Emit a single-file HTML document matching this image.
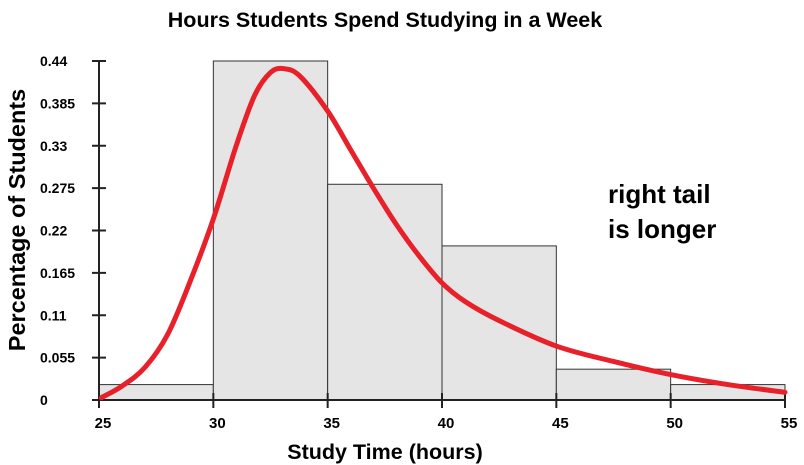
<!DOCTYPE html>
<html><head><meta charset="utf-8"><style>
body{margin:0;background:#fff}
svg{display:block;font-family:"Liberation Sans",Arial,sans-serif}
</style></head><body>
<svg width="804" height="465" viewBox="0 0 804 465" id="chart">
<text x="385" y="27" text-anchor="middle" font-size="21.5" font-weight="bold">Hours Students Spend Studying in a Week</text>
<text transform="translate(25,220) rotate(-90)" text-anchor="middle" font-size="23.5" font-weight="bold">Percentage of Students</text>
<text x="385" y="459" text-anchor="middle" font-size="21.5" font-weight="bold">Study Time (hours)</text>
<g id="bars"></g>
<g id="axes"></g>
<path id="curve" fill="none" stroke="#e8202a" stroke-width="5" stroke-linecap="round"></path>
<text x="608" y="203" font-size="26" font-weight="bold">right tail</text>
<text x="608" y="238" font-size="26" font-weight="bold">is longer</text>
</svg>
<script>
const binStarts=[25,30,35,40,45,50];
const binValues=[0.02,0.44,0.28,0.2,0.04,0.02];
const yTicks=[0,0.055,0.11,0.165,0.22,0.275,0.33,0.385,0.44];
const yTickLabels=["0","0.055","0.11","0.165","0.22","0.275","0.33","0.385","0.44"];
const xTicks=[25,30,35,40,45,50,55];
const curveX=[25.1,26,27,28,29,30,31,31.8,32.5,33.1,33.8,35,36,37,38,39,40,41,42.5,45,47.5,50,52.5,55];
const curveY=[0.003,0.018,0.042,0.085,0.155,0.235,0.33,0.395,0.425,0.43,0.42,0.375,0.325,0.275,0.228,0.187,0.152,0.128,0.103,0.07,0.05,0.033,0.02,0.01];
const NS="http://www.w3.org/2000/svg";
const X=v=>99+(v-25)*(686/30);
const Y=v=>400-v*(339/0.44);
function mk(t,a,p){const e=document.createElementNS(NS,t);for(const k in a)e.setAttribute(k,a[k]);p.appendChild(e);return e;}
const bars=document.getElementById('bars'),axes=document.getElementById('axes');
binStarts.forEach((s,i)=>{
 const r=mk('rect',{x:X(s),y:Y(binValues[i]),width:X(s+5)-X(s),height:Y(0)-Y(binValues[i]),fill:'#e5e5e5',stroke:'#333','stroke-width':1},bars);
 
 
});
const ya=mk('line',{x1:99,y1:Y(0.44),x2:99,y2:400,stroke:'#222','stroke-width':2},axes);


const xa=mk('line',{x1:99,y1:400,x2:X(55),y2:400,stroke:'#222','stroke-width':2},axes);


yTicks.forEach((v,i)=>{
 mk('line',{x1:92,y1:Y(v),x2:106,y2:Y(v),stroke:'#222','stroke-width':2},axes);
 const t=mk('text',{x:40,y:Y(v)+5,'font-size':14,'font-weight':'bold'},axes);
 t.textContent=yTickLabels[i];
 
 
});
xTicks.forEach(v=>{
 mk('line',{x1:X(v),y1:393,x2:X(v),y2:408,stroke:'#222','stroke-width':2},axes);
 const t=mk('text',{x:X(v)+4,y:428,'font-size':15,'font-weight':'bold','text-anchor':'middle'},axes);
 t.textContent=v;
 
 
});
const P=curveX.map((x,i)=>[X(x),Y(curveY[i])]);
let d='M'+P[0][0]+','+P[0][1];
for(let i=0;i<P.length-1;i++){
 const p0=P[Math.max(0,i-1)],p1=P[i],p2=P[i+1],p3=P[Math.min(P.length-1,i+2)];
 const c1=[p1[0]+(p2[0]-p0[0])/6,p1[1]+(p2[1]-p0[1])/6];
 const c2=[p2[0]-(p3[0]-p1[0])/6,p2[1]-(p3[1]-p1[1])/6];
 d+=' C'+c1+' '+c2+' '+p2;
}
document.getElementById('curve').setAttribute('d',d);
</script>
</body></html>
